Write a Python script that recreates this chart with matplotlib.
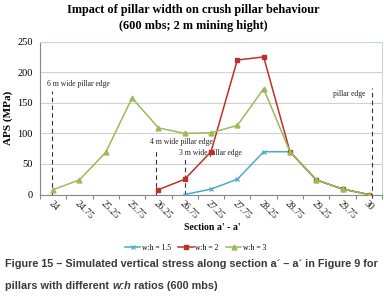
import matplotlib
matplotlib.use("Agg")
import matplotlib.pyplot as plt
import numpy as np

# data
sections = ["24", "24.75", "25.25", "25.75", "26.25", "26.75", "27.25",
            "27.75", "28.25", "28.75", "29.25", "29.75", "30"]
wh15 = [None, None, None, None, None, 0, 9, 25, 70, 70, 24, 9, 0]
wh2 = [None, None, None, None, 8, 25, 70, 220, 225, 70, 24, 9, 0]
wh3 = [8, 24, 69, 158, 109, 100, 101, 113, 173, 70, 24, 9, 0]

# pillar edge markers: (category position, label)
edge_pos = [-0.05, 3.9, 5.0, 12.1]
edge_lbl = ["6 m wide pillar edge", "4 m wide pillar edge",
            "3 m wide pillar edge", "pillar edge"]
edge_top = [170, 75, 58, 174]

BLUE = "#4bacc6"
RED = "#c0302a"
GREEN = "#9bbb59"
SERIF = "Liberation Serif"

fig = plt.figure(figsize=(3.84, 3.04), dpi=100)
ax = fig.add_axes([0.104, 0.36, 0.891, 0.503])

x = np.arange(len(sections))


def series(vals):
    return np.array([np.nan if v is None else v for v in vals], dtype=float)


ax.plot(x, series(wh15), color=BLUE, lw=1.1, marker="x", ms=3.5, mew=0.9,
        label="w:h = 1.5", zorder=3)
ax.plot(x, series(wh2), color=RED, lw=1.1, marker="s", ms=3.2,
        label="w:h = 2", zorder=4)
ax.plot(x, series(wh3), color=GREEN, lw=1.1, marker="^", ms=3.5,
        label="w:h = 3", zorder=5)

for px, lbl, top in zip(edge_pos, edge_lbl, edge_top):
    bottom = -6 if lbl == "pillar edge" else 0
    ax.plot([px, px], [bottom, top], color="#333333", lw=0.8,
            ls=(0, (4, 3)), zorder=2, clip_on=False)
    if lbl == "pillar edge":
        ax.text(px - 0.25, top - 9, lbl, ha="right", va="center",
                fontsize=5.5, family=SERIF, color="#222222")
    else:
        ax.text(px - 0.2, top + 4, lbl, ha="left", va="bottom",
                fontsize=5.5, family=SERIF, color="#222222")

ax.set_xlim(-0.5, len(sections) - 0.5)
ax.set_ylim(0, 250)
ax.set_yticks([0, 50, 100, 150, 200, 250])
ax.yaxis.grid(True, color="#d0d0d0", lw=0.8)
ax.set_axisbelow(True)
ax.set_xticks(np.arange(len(sections) + 1) - 0.5)
ax.set_xticklabels([])
ax.tick_params(axis="x", length=3, color="#888888")
ax.tick_params(axis="y", length=0, labelsize=7.5, pad=5)
for t in ax.get_yticklabels():
    t.set_family(SERIF)

for i, s in enumerate(sections):
    ax.text(i, -8, s, rotation=-45, rotation_mode="anchor", ha="left",
            va="top", fontsize=7, family=SERIF, color="#222222")

ax.spines["left"].set_color("#888888")
ax.spines["bottom"].set_color("#888888")
ax.spines["top"].set_color("#c5d6e3")
ax.spines["right"].set_color("#c5d6e3")

ax.set_ylabel("APS (MPa)", family=SERIF, fontweight="bold", fontsize=8,
              labelpad=3)
fig.text(0.552, 0.253, "Section a' - a'", ha="center", va="center",
         family=SERIF, fontweight="bold", fontsize=7)

fig.text(0.503, 0.966, "Impact of pillar width on crush pillar behaviour",
         ha="center", va="center", family=SERIF, fontweight="bold",
         fontsize=8.8)
fig.text(0.503, 0.916, "(600 mbs; 2 m mining hight)", ha="center",
         va="center", family=SERIF, fontweight="bold", fontsize=8.8)

leg = ax.legend(loc="center", bbox_to_anchor=(0.455, -0.35), ncol=3,
                frameon=False, prop={"family": SERIF, "size": 5.5},
                handlelength=2.0, columnspacing=1.0, handletextpad=0.2)

# caption
cap_kw = dict(family="Liberation Sans", fontsize=7.85, color="#3a3a3a",
              fontweight="bold", va="center", ha="left")
fig.text(0.013, 0.131,
         "Figure 15 \u2013 Simulated vertical stress along section a\u00b4 \u2013 a\u00b4 in Figure 9 for",
         **cap_kw)
t1 = fig.text(0.013, 0.058, "pillars with different ", **cap_kw)
fig.canvas.draw()
r = fig.canvas.get_renderer()
bb = t1.get_window_extent(r)
x2 = bb.x1 / fig.bbox.width
t2 = fig.text(x2, 0.058, "w:h", style="italic", **cap_kw)
bb2 = t2.get_window_extent(r)
fig.text(bb2.x1 / fig.bbox.width, 0.058, " ratios (600 mbs)", **cap_kw)

fig.savefig("out.png", dpi=100)
